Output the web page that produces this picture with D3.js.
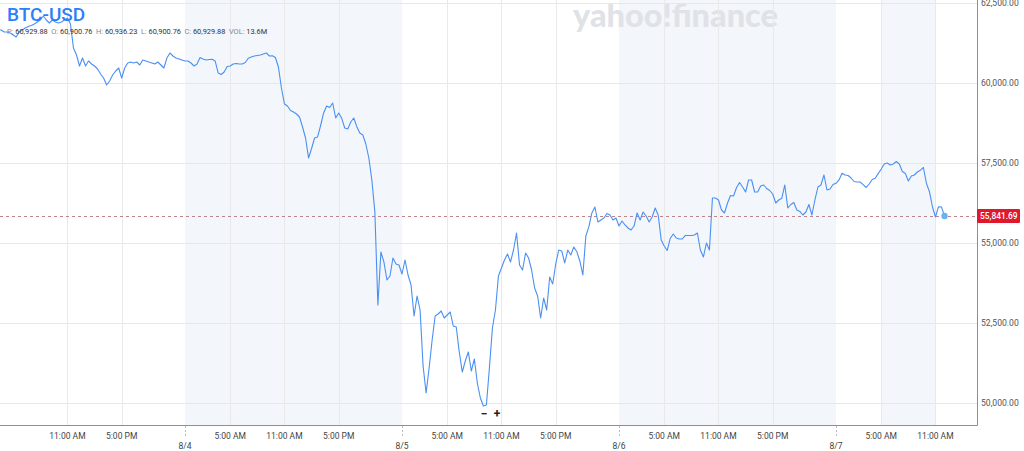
<!DOCTYPE html>
<html><head><meta charset="utf-8">
<script src="https://cdn.jsdelivr.net/npm/d3@7"></script>
<style>html,body{margin:0;padding:0;background:#fff;overflow:hidden}</style>
</head><body><svg id="c" width="1024" height="451"></svg>
<script>
// ---------------- data ----------------
const symbol = "BTC-USD";
const quoteLabels = ["P:", "O:", "H:", "L:", "C:", "VOL:"];
const quoteValues = ["60,929.88", "60,900.76", "60,936.23", "60,900.76", "60,929.88", "13.6M"];
const startTime = "2024-08-03T03:20";
const stepMinutes = 20;
const prices = [
61656,61656,61594,61594,61563,61500,61438,61594,61656,61719,
61766,61797,61844,61906,61969,62094,61969,61875,61969,61906,
61875,61906,61969,62031,61844,61094,60875,60531,60781,60531,
60688,60594,60531,60438,60281,60156,59938,60063,60250,60375,
60469,60156,60469,60625,60656,60625,60656,60563,60719,60688,
60656,60625,60594,60656,60563,60469,60781,60938,60844,60781,
60750,60719,60688,60688,60625,60531,60594,60797,60750,60719,
60735,60741,60688,60313,60266,60344,60516,60531,60594,60610,
60594,60594,60641,60772,60813,60844,60860,60875,60906,60938,
60844,60853,60797,60500,59844,59344,59281,59141,59094,59031,
58938,58625,58281,57656,57953,58281,58313,58672,59063,59281,
59235,59375,58906,59063,58897,58594,58563,58781,58906,58635,
58438,58375,58094,57656,56969,55969,53063,54719,54406,53844,
53969,54531,54344,54313,54031,54469,54000,53688,52719,53344,
52906,51156,50313,51094,51969,52719,52781,52875,52656,52750,
52844,52406,52375,51594,50969,51313,51594,51000,51375,50625,
50156,49906,49938,51094,52344,52906,53969,54219,54469,54656,
54406,54781,55313,54313,54156,54688,54531,54156,53594,53344,
52656,53281,52906,53938,53719,54344,54781,54750,54375,54781,
54625,54875,54728,54438,54000,55219,55510,55938,56125,55656,
55719,55781,55922,55875,55719,55781,55531,55688,55563,55469,
55406,55531,55938,55719,55969,55844,55656,55813,56094,55875,
55094,54906,54766,55141,55281,55156,55125,55125,55235,55235,
55235,55250,55313,54781,54563,55000,54781,56406,56406,56344,
56031,55938,56250,56485,56469,56735,56891,56750,56594,56969,
56969,56594,56594,56781,56813,56703,56641,56531,56250,56344,
56397,56813,56094,56203,56266,56031,55985,55875,55969,56203,
55875,56344,56750,56813,57125,56656,56688,56828,56866,56969,
57178,57125,57110,57031,56922,56906,56906,56822,56735,56844,
56985,57022,57169,57313,57469,57500,57438,57469,57547,57469,
57235,57172,56938,57094,57125,57219,57275,57360,56860,56603,
56125,55813,56135,56125,55841.69
];
const lastPrice = 55841.69;
const yTicks = [50000, 52500, 55000, 57500, 60000, 62500];
const timeTicks = [
  "2024-08-03T11:00","2024-08-03T17:00",
  "2024-08-04T00:00","2024-08-04T05:00","2024-08-04T11:00","2024-08-04T17:00",
  "2024-08-05T00:00","2024-08-05T05:00","2024-08-05T11:00","2024-08-05T17:00",
  "2024-08-06T00:00","2024-08-06T05:00","2024-08-06T11:00","2024-08-06T17:00",
  "2024-08-07T00:00","2024-08-07T05:00","2024-08-07T11:00"
];
const shadedRanges = [
  ["2024-08-04T00:00","2024-08-05T00:00"],
  ["2024-08-06T00:00","2024-08-07T00:00"],
  ["2024-08-07T05:00","2024-08-07T11:00"]
];
const watermark = "yahoo!finance";

// ---------------- chart ----------------
const parse = d3.timeParse("%Y-%m-%dT%H:%M");
const t0 = parse(startTime);
const series = prices.map((p, i) => ({ t: d3.timeMinute.offset(t0, i * stepMinutes), v: p }));

const W = 1024, H = 451;
const plotR = 977, plotB = 425;
const svg = d3.select("#c");

const x = d3.scaleTime()
  .domain([new Date(2024, 7, 3, 3, 32, 30), new Date(2024, 7, 7, 15, 35, 30)])
  .range([0, plotR]);
const y = d3.scaleLinear().domain([49312.5, 62593.75]).range([plotB, 0]);

svg.append("rect").attr("width", W).attr("height", H).attr("fill", "#fff");

// shaded bands
svg.append("g").selectAll("rect").data(shadedRanges).join("rect")
  .attr("x", d => x(parse(d[0])))
  .attr("width", d => x(parse(d[1])) - x(parse(d[0])))
  .attr("y", 0).attr("height", plotB)
  .attr("fill", "#f3f6fa");

// watermark (font size fitted to the reference width)
const wm = svg.append("text")
  .attr("x", 573).attr("y", 27)
  .attr("font-family", "Lato, 'Open Sans', sans-serif")
  .attr("font-weight", 900).attr("font-size", 30)
  .attr("fill", "#dfe2e7").text(watermark);
const wmLen = wm.node().getComputedTextLength();
if (wmLen > 0) wm.attr("font-size", 30 * 205 / wmLen);

// horizontal grid
svg.append("g").selectAll("line").data(yTicks).join("line")
  .attr("x1", 0).attr("x2", plotR)
  .attr("y1", d => Math.round(y(d)) + 0.5).attr("y2", d => Math.round(y(d)) + 0.5)
  .attr("stroke", "#e7e7e7");

// vertical grid (non-midnight ticks)
const tickDates = timeTicks.map(parse);
const isMidnight = d => d.getHours() === 0 && d.getMinutes() === 0;
svg.append("g").selectAll("line").data(tickDates.filter(d => !isMidnight(d))).join("line")
  .attr("x1", d => Math.round(x(d)) + 0.5).attr("x2", d => Math.round(x(d)) + 0.5)
  .attr("y1", 0).attr("y2", plotB)
  .attr("stroke", "#e9e9e9");

// last price dashed line
svg.append("line")
  .attr("x1", 0).attr("x2", plotR)
  .attr("y1", Math.round(y(lastPrice)) + 0.5).attr("y2", Math.round(y(lastPrice)) + 0.5)
  .attr("stroke", "#b7777c").attr("stroke-width", 0.9).attr("stroke-dasharray", "3,3");

// price line
svg.append("clipPath").attr("id", "clip").append("rect")
  .attr("x", 0).attr("y", 0).attr("width", plotR).attr("height", plotB);
const line = d3.line().x(d => x(d.t)).y(d => y(d.v));
svg.append("path").datum(series)
  .attr("clip-path", "url(#clip)")
  .attr("d", line).attr("fill", "none")
  .attr("stroke", "#4a90f2").attr("stroke-width", 1.1)
  .attr("stroke-linejoin", "round");

const last = series[series.length - 1];
svg.append("circle").attr("cx", x(last.t)).attr("cy", y(last.v)).attr("r", 3.2)
  .attr("fill", "#62b4f7");

// axes lines
svg.append("line").attr("x1", 0).attr("x2", plotR + 0.5).attr("y1", plotB + 0.5).attr("y2", plotB + 0.5)
  .attr("stroke", "#8f8f8f");
svg.append("line").attr("x1", plotR + 0.5).attr("x2", plotR + 0.5).attr("y1", 0).attr("y2", plotB + 0.5)
  .attr("stroke", "#8f8f8f");

// y labels
const fmtY = d3.format(",.2f");
svg.append("g").selectAll("text").data(yTicks).join("text")
  .attr("x", plotR + 4).attr("y", d => y(d)).attr("dy", "0.35em")
  .attr("font-family", "Roboto, sans-serif").attr("font-size", 8.6)
  .attr("fill", "#555").text(d => fmtY(d));

// last price label
const lp = Math.round(y(lastPrice));
svg.append("rect").attr("x", plotR).attr("y", lp - 7).attr("width", 43).attr("height", 14)
  .attr("rx", 1).attr("fill", "#e0182d");
svg.append("text").attr("x", plotR + 3).attr("y", lp).attr("dy", "0.35em")
  .attr("font-family", "Roboto, sans-serif").attr("font-size", 8.4).attr("font-weight", 500)
  .attr("fill", "#fff").text(fmtY(lastPrice));

// x labels
const fmtTime = d3.timeFormat("%-I:%M %p");
const fmtDate = d3.timeFormat("%-m/%-d");
const xg = svg.append("g").attr("font-family", "Roboto, sans-serif").attr("font-size", 8.5).attr("fill", "#444");
tickDates.forEach(d => {
  const px = x(d);
  if (isMidnight(d)) {
    xg.append("line").attr("x1", Math.round(px) + 0.5).attr("x2", Math.round(px) + 0.5)
      .attr("y1", plotB + 1).attr("y2", plotB + 11)
      .attr("stroke", "#bbb").attr("stroke-dasharray", "2,2");
    xg.append("text").attr("x", px).attr("y", 448.5).attr("text-anchor", "middle").text(fmtDate(d));
  } else {
    xg.append("text").attr("x", px).attr("y", 438.5).attr("text-anchor", "middle").text(fmtTime(d));
  }
});

// title
svg.append("text").attr("x", 7).attr("y", 21)
  .attr("font-family", "Roboto, sans-serif").attr("font-size", 19).attr("font-weight", 500)
  .attr("fill", "#2d7ff9").text(symbol);

const q = svg.append("text").attr("x", 7).attr("y", 33.5)
  .attr("font-family", "Roboto, sans-serif").attr("font-size", 7.4);
quoteLabels.forEach((l, i) => {
  q.append("tspan").attr("fill", "#888").attr("dx", i === 0 ? 0 : 3.5).text(l + " ");
  q.append("tspan").attr("fill", "#333").text(quoteValues[i]);
});

// zoom buttons
svg.append("text").attr("x", 484).attr("y", 418).attr("text-anchor", "middle")
  .attr("font-family", "Roboto, sans-serif").attr("font-size", 12).attr("font-weight", 700)
  .attr("fill", "#222").text("−");
svg.append("text").attr("x", 497).attr("y", 418).attr("text-anchor", "middle")
  .attr("font-family", "Roboto, sans-serif").attr("font-size", 12).attr("font-weight", 700)
  .attr("fill", "#222").text("+");
</script></body></html>
